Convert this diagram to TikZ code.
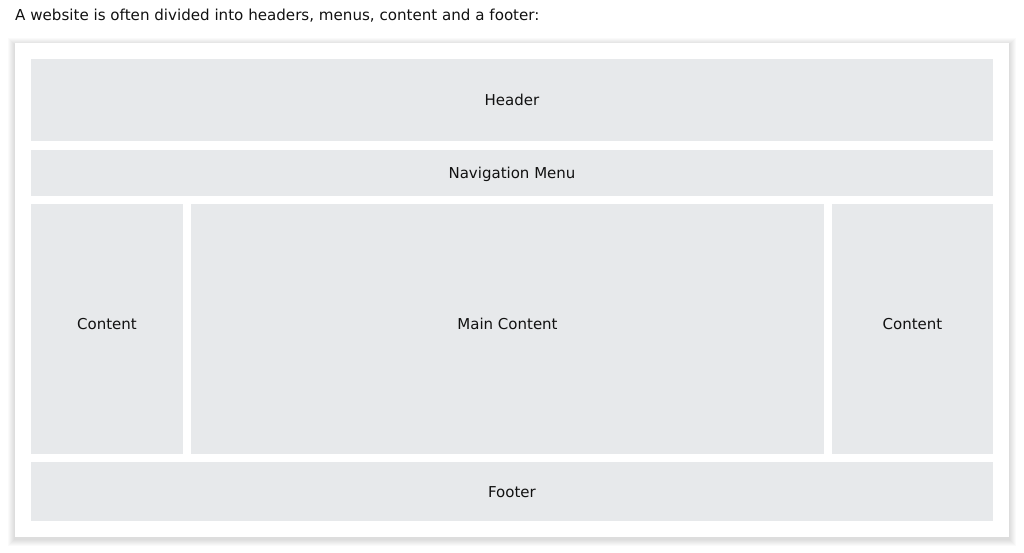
\documentclass[tikz,border=0pt]{standalone}
\usepackage{fontspec}
\setmainfont{DejaVu Sans}
\usepackage{xcolor}
\usetikzlibrary{backgrounds}
\definecolor{boxgray}{HTML}{E7E9EB}
\definecolor{textgray}{HTML}{111111}

\begin{document}
\begin{tikzpicture}[x=1pt, y=-1pt]
    	\tikzstyle{part}=[fill=boxgray, inner sep=0pt, font=\fontsize{15}{18}\selectfont, text=textgray, text height=11pt, text depth=0pt]
    	\tikzstyle{column}=[part, text height=8pt, text depth=8pt]
    	\useasboundingbox (0,0) rectangle (1024,552);

    	% Caption
    	\node[anchor=west, inner sep=0pt, font=\fontsize{15.1}{18}\selectfont, text=textgray, text height=11pt, text depth=0pt] at (15,14.5) (caption) {A website is often divided into headers, menus, content and a footer:};

    	% Page with soft shadow
    	\foreach \s in {1,...,7}
    		\fill[black, opacity=0.018] (15-\s,43-\s+2) rectangle (1009+\s,537+\s+2);
    	\node[fill=white, minimum width=994pt, minimum height=494pt, inner sep=0pt] at (512,290) (page) {};

    	% Header
    	\node[part, minimum width=962pt, minimum height=82pt] at (512,100) (header) {Header};

    	% Navigation
    	\node[part, minimum width=962pt, minimum height=46pt] at (512,173) (nav) {Navigation Menu};

    	% Middle row
    	\node[column, minimum width=152pt, minimum height=250pt] at (107,329) (left_content) {Content};
    	\node[column, minimum width=633pt, minimum height=250pt] at (507.5,329) (main_content) {Main Content};
    	\node[column, minimum width=161pt, minimum height=250pt] at (912.5,329) (right_content) {Content};

    	% Footer
    	\node[part, minimum width=962pt, minimum height=59pt] at (512,491.5) (footer) {Footer};
\end{tikzpicture}
\end{document}
